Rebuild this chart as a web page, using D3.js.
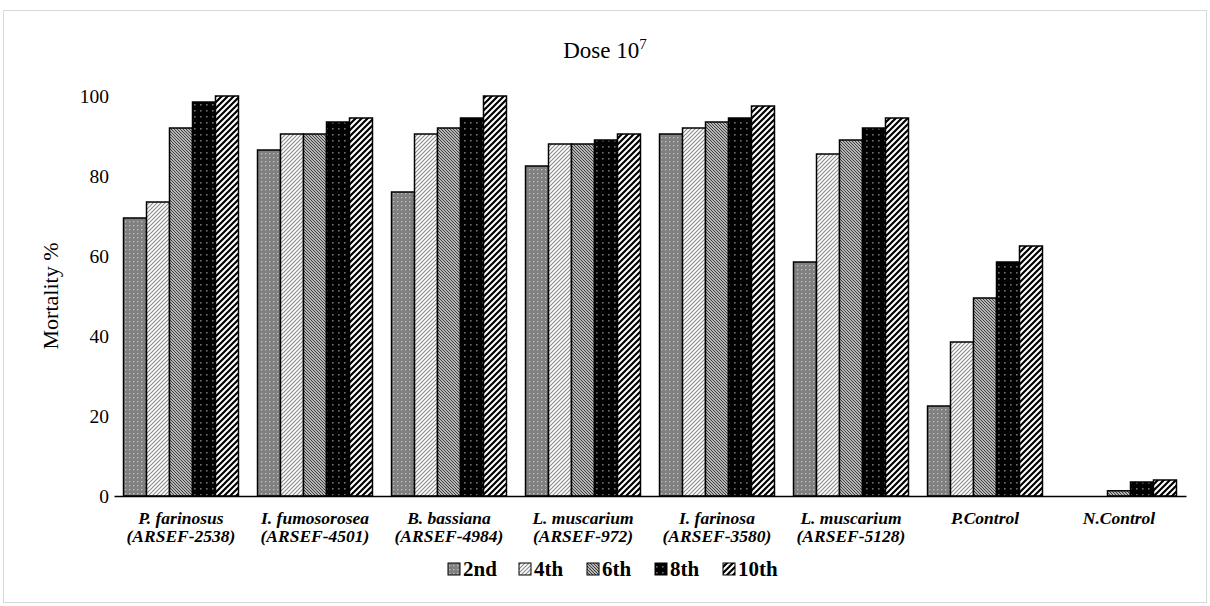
<!DOCTYPE html>
<html><head><meta charset="utf-8">
<script src="https://cdn.jsdelivr.net/npm/d3@7"></script>
<style>body{margin:0;background:#fff}</style>
</head><body>
<svg id="c" width="1210" height="606"></svg>
<script>
const categories = [
  ["P. farinosus","(ARSEF-2538)"],
  ["I. fumosorosea","(ARSEF-4501)"],
  ["B. bassiana","(ARSEF-4984)"],
  ["L. muscarium","(ARSEF-972)"],
  ["I. farinosa","(ARSEF-3580)"],
  ["L. muscarium","(ARSEF-5128)"],
  ["P.Control"],
  ["N.Control"]
];
const seriesNames = ["2nd","4th","6th","8th","10th"];
const s2nd  = [69.5, 86.5, 76,   82.5, 90.5, 58.5, 22.5, 0];
const s4th  = [73.5, 90.5, 90.5, 88,   92,   85.5, 38.5, 0];
const s6th  = [92,   90.5, 92,   88,   93.5, 89,   49.5, 1.3];
const s8th  = [98.5, 93.5, 94.5, 89,   94.5, 92,   58.5, 3.5];
const s10th = [100,  94.5, 100,  90.5, 97.5, 94.5, 62.5, 4];
const yTicks = [0,20,40,60,80,100];
const title = "Dose 10";
const yTitle = "Mortality %";

const series = [s2nd,s4th,s6th,s8th,s10th];
const svg = d3.select("#c");
const W = 1210, H = 606;
const plot = {left:114, right:1186, top:96, bottom:496};

// border
svg.append("rect").attr("x",3.5).attr("y",10.5).attr("width",W-7).attr("height",H-14)
  .attr("fill","#fff").attr("stroke","#d9d9d9").attr("stroke-width",1);

// patterns
const defs = svg.append("defs");
let p = defs.append("pattern").attr("id","p0").attr("patternUnits","userSpaceOnUse").attr("width",4).attr("height",4);
p.append("rect").attr("width",4).attr("height",4).attr("fill","#808080");
p.append("rect").attr("x",1).attr("y",1).attr("width",1.3).attr("height",1.3).attr("fill","#c0c0c0");

p = defs.append("pattern").attr("id","p1").attr("patternUnits","userSpaceOnUse").attr("width",4).attr("height",4);
p.append("rect").attr("width",4).attr("height",4).attr("fill","#fff");
p.append("path").attr("d","M-1,5 L5,-1 M-1,1 L1,-1 M3,5 L5,3").attr("stroke","#8a8a8a").attr("stroke-width",1.1);

p = defs.append("pattern").attr("id","p2").attr("patternUnits","userSpaceOnUse").attr("width",3).attr("height",3);
p.append("rect").attr("width",3).attr("height",3).attr("fill","#b5b5b5");
p.append("path").attr("d","M-1,-1 L4,4 M-1,2 L1,4 M2,-1 L4,1").attr("stroke","#404040").attr("stroke-width",1);

p = defs.append("pattern").attr("id","p3").attr("patternUnits","userSpaceOnUse").attr("width",6).attr("height",6);
p.append("rect").attr("width",6).attr("height",6).attr("fill","#000");
p.append("rect").attr("x",2).attr("y",2).attr("width",1.6).attr("height",1.6).attr("fill","#707070");

p = defs.append("pattern").attr("id","p4").attr("patternUnits","userSpaceOnUse").attr("width",6).attr("height",6);
p.append("rect").attr("width",6).attr("height",6).attr("fill","#fff");
p.append("path").attr("d","M-1.5,7.5 L7.5,-1.5 M-1.5,1.5 L1.5,-1.5 M4.5,7.5 L7.5,4.5").attr("stroke","#000").attr("stroke-width",2.2);

const x0 = d3.scaleBand().domain(d3.range(categories.length)).range([plot.left,plot.right]).paddingInner(0.142).paddingOuter(0.071);
const x1 = d3.scaleBand().domain(d3.range(seriesNames.length)).range([0,x0.bandwidth()]);
const y = d3.scaleLinear().domain([0,100]).range([plot.bottom,plot.top]);

// title
const t = svg.append("text").attr("x",W/2).attr("y",58).attr("text-anchor","middle")
  .attr("font-family","Liberation Serif").attr("font-size",23).attr("fill","#000");
t.append("tspan").text(title);
t.append("tspan").attr("dy",-9).attr("font-size",15).text("7");

// y axis
const yAxis = d3.axisLeft(y).tickValues(yTicks).tickSize(0).tickPadding(5);
const ga = svg.append("g").attr("transform",`translate(${plot.left},0)`).call(yAxis);
ga.select(".domain").remove();
ga.selectAll("text").attr("font-family","Liberation Serif").attr("font-size",19.5).attr("fill","#000");

svg.append("text").attr("transform",`translate(58,${(plot.top+plot.bottom)/2}) rotate(-90)`)
  .attr("text-anchor","middle").attr("font-family","Liberation Serif").attr("font-size",22).text(yTitle);

// bars
const g = svg.append("g");
categories.forEach((c,i)=>{
  series.forEach((s,j)=>{
    const v = s[i];
    if (v<=0) return;
    g.append("rect").attr("x",x0(i)+x1(j)).attr("y",y(v)).attr("width",x1.bandwidth()).attr("height",y(0)-y(v))
      .attr("fill",`url(#p${j})`).attr("stroke","#000").attr("stroke-width",1.5);
  });
});

// x axis
const xAxis = d3.axisBottom(x0).tickSize(0).tickFormat("");
const gx = svg.append("g").attr("transform",`translate(0,${plot.bottom})`).call(xAxis);
gx.select(".domain").attr("stroke","#000").attr("stroke-width",1.3);
categories.forEach((c,i)=>{
  const tx = svg.append("text").attr("x",x0(i)+x0.bandwidth()/2).attr("y",plot.bottom+28)
    .attr("text-anchor","middle").attr("font-family","Liberation Serif").attr("font-weight","bold")
    .attr("font-style","italic").attr("font-size",17.5);
  c.forEach((line,k)=>tx.append("tspan").attr("x",x0(i)+x0.bandwidth()/2).attr("dy",k?18:0).text(line));
});

// legend
const lg = svg.append("g");
const legX = [448,519,587,655,723];
seriesNames.forEach((n,j)=>{
  lg.append("rect").attr("x",legX[j]).attr("y",563).attr("width",12).attr("height",12)
    .attr("fill",`url(#p${j})`).attr("stroke","#000").attr("stroke-width",1);
  lg.append("text").attr("x",legX[j]+15).attr("y",576).attr("font-family","Liberation Serif")
    .attr("font-weight","bold").attr("font-size",21).text(n);
});
</script>
</body></html>
